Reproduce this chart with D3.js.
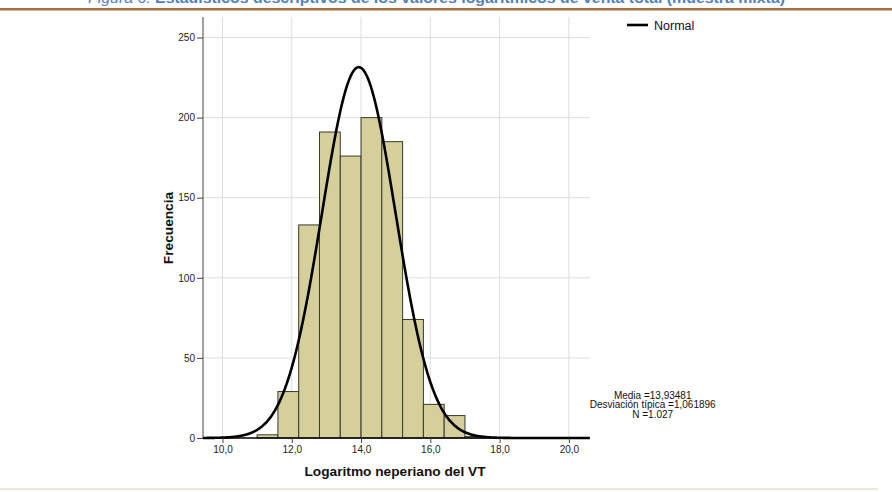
<!DOCTYPE html>
<html>
<head>
<meta charset="utf-8">
<script src="https://cdn.jsdelivr.net/npm/d3@7"></script>
<style>
  html, body { margin: 0; padding: 0; background: #fff; }
  svg { display: block; font-family: "Liberation Sans", Arial, sans-serif; }
</style>
</head>
<body>
<svg id="chart" width="892" height="492"></svg>
<script>
// ---- data ----
const binStarts = [11.0, 11.6, 12.2, 12.8, 13.4, 14.0, 14.6, 15.2, 15.8, 16.4, 17.0];
const binWidth = 0.6;
const frequencies = [2, 29, 133, 191, 176, 200, 185, 74, 21, 14, 1];
const xTicks = [10, 12, 14, 16, 18, 20];
const yTicks = [0, 50, 100, 150, 200, 250];
const meanValue = 13.93481;
const sdValue = 1.061896;
const nValue = 1027;
const statsLines = ["Media =13,93481", "Desviación típica =1,061896", "N =1.027"];
const titleText = "Estadísticos descriptivos de los valores logarítmicos de venta total (muestra mixta)";
const titlePrefix = "Figura 6: ";

(function () {
// ---- layout ----
const svg = d3.select("#chart");
const pLeft = 203, pRight = 590, pTop = 17, pBottom = 438;

const x = d3.scaleLinear().domain([9.437, 20.61]).range([pLeft, pRight]);
const y = d3.scaleLinear().domain([0, 262.8]).range([pBottom, pTop]);

// header title (cut at top) and brown rule
const title = svg.append("text")
  .attr("x", 88).attr("y", 3)
  .attr("font-size", 14).attr("fill", "#4f81bd")
  .attr("textLength", 697).attr("lengthAdjust", "spacingAndGlyphs");
title.append("tspan").attr("font-style", "italic").text(titlePrefix);
title.append("tspan").attr("font-weight", "bold").text(titleText);

svg.append("rect").attr("x", 0).attr("y", 8).attr("width", 892).attr("height", 2.5)
  .attr("fill", "#a2703f");

// bottom light rule
svg.append("rect").attr("x", 0).attr("y", 488).attr("width", 878).attr("height", 2)
  .attr("fill", "#ebe7dc");

// gridlines
svg.append("g").selectAll("line").data(xTicks).join("line")
  .attr("x1", d => x(d)).attr("x2", d => x(d))
  .attr("y1", pTop).attr("y2", pBottom)
  .attr("stroke", "#dedede").attr("stroke-width", 1);
svg.append("g").selectAll("line").data(yTicks.filter(d => d > 0)).join("line")
  .attr("x1", pLeft).attr("x2", pRight)
  .attr("y1", d => y(d)).attr("y2", d => y(d))
  .attr("stroke", "#dedede").attr("stroke-width", 1);

// bars
svg.append("g").selectAll("rect").data(binStarts).join("rect")
  .attr("x", d => x(d))
  .attr("width", d => x(d + binWidth) - x(d))
  .attr("y", (d, i) => y(frequencies[i]))
  .attr("height", (d, i) => y(0) - y(frequencies[i]))
  .attr("fill", "#d4cf9b")
  .attr("stroke", "#3a3a2c").attr("stroke-width", 1);

// normal curve
const k = nValue * binWidth / (sdValue * Math.sqrt(2 * Math.PI));
const pts = d3.range(9.437, 20.61, 0.02).map(v => [v, k * Math.exp(-0.5 * Math.pow((v - meanValue) / sdValue, 2))]);
svg.append("path")
  .datum(pts)
  .attr("d", d3.line().x(d => x(d[0])).y(d => y(d[1])).curve(d3.curveBasis))
  .attr("fill", "none").attr("stroke", "#000").attr("stroke-width", 2.6);

// axes
const yAxis = svg.append("g").attr("transform", `translate(${pLeft},0)`)
  .call(d3.axisLeft(y).tickValues(yTicks).tickSize(6).tickPadding(2).tickFormat(d3.format("d")));
yAxis.select(".domain").attr("d", `M0,${pTop}V${pBottom}`).attr("stroke", "#444");
yAxis.selectAll(".tick line").attr("stroke", "#444");
yAxis.selectAll("text").attr("font-size", 10).attr("fill", "#222")
  .attr("font-family", "Liberation Sans, Arial, sans-serif");

const xAxis = svg.append("g").attr("transform", `translate(0,${pBottom})`)
  .call(d3.axisBottom(x).tickValues(xTicks).tickSize(5).tickPadding(3)
    .tickFormat(d => d3.format(".1f")(d).replace(".", ",")));
xAxis.select(".domain").attr("d", `M${pLeft},0H${pRight}`).attr("stroke", "#000").attr("stroke-width", 1.6);
xAxis.selectAll(".tick line").attr("stroke", "#444");
xAxis.selectAll("text").attr("font-size", 10).attr("fill", "#222")
  .attr("font-family", "Liberation Sans, Arial, sans-serif");

// axis titles
svg.append("text")
  .attr("transform", `translate(173,228) rotate(-90)`)
  .attr("text-anchor", "middle")
  .attr("font-size", 13.7).attr("font-weight", "bold").attr("fill", "#111")
  .text("Frecuencia");
svg.append("text")
  .attr("x", 395).attr("y", 475.5)
  .attr("text-anchor", "middle")
  .attr("font-size", 13.7).attr("font-weight", "bold").attr("fill", "#111")
  .text("Logaritmo neperiano del VT");

// legend
svg.append("line").attr("x1", 627).attr("x2", 648).attr("y1", 25).attr("y2", 25)
  .attr("stroke", "#000").attr("stroke-width", 2.6);
svg.append("text").attr("x", 654).attr("y", 30)
  .attr("font-size", 12.5).attr("fill", "#111").text("Normal");

// stats
svg.append("g").selectAll("text").data(statsLines).join("text")
  .attr("x", 652.7).attr("y", (d, i) => 398.5 + i * 9.7)
  .attr("text-anchor", "middle")
  .attr("font-size", 10).attr("fill", "#111")
  .text(d => d);
})();
</script>
</body>
</html>
